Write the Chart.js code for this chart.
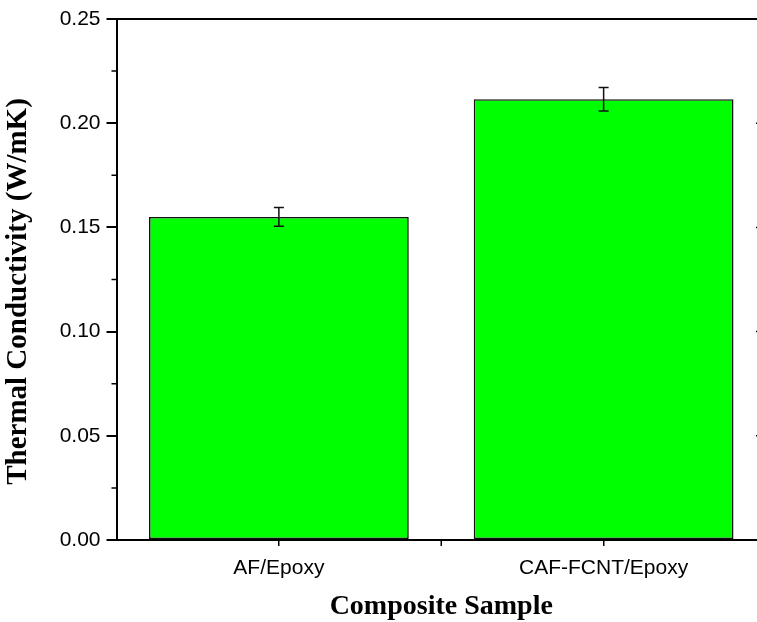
<!DOCTYPE html>
<html>
<head>
<meta charset="utf-8">
<script src="https://cdn.jsdelivr.net/npm/chart.js@4.4.1/dist/chart.umd.min.js"></script>
<style>
    html, body { margin: 0; padding: 0; background: #fff; }
    #wrap { width: 757px; height: 622px; overflow: hidden; position: relative; }
    #box { width: 780px; height: 622px; }
</style>
</head>
<body>
<div id="wrap"><div id="box"><canvas id="conductivity"></canvas></div></div>
<script>
// Thermal conductivity of the two composites
const categories = ['AF/Epoxy', 'CAF-FCNT/Epoxy'];
const conductivity = [0.155, 0.2115];
const conductivityErr = [0.0045, 0.0056];
const yMajorTicks = [0, 0.05, 0.10, 0.15, 0.20, 0.25];
const yMinorTicks = [0.025, 0.075, 0.125, 0.175, 0.225];
const yTitle = 'Thermal Conductivity (W/mK)';

const AXIS = '#000';

// error bars on top of each bar
const errorBars = {
    id: 'errorBars',
    afterDatasetsDraw(chart) {
        const ctx = chart.ctx;
        const y = chart.scales.y;
        const meta = chart.getDatasetMeta(0);
        ctx.save();
        ctx.strokeStyle = '#111';
        ctx.lineWidth = 1.5;
        meta.data.forEach((bar, i) => {
            const hi = y.getPixelForValue(conductivity[i] + conductivityErr[i]);
            const lo = y.getPixelForValue(conductivity[i] - conductivityErr[i]);
            const cap = 5;
            ctx.beginPath();
            ctx.moveTo(bar.x, hi); ctx.lineTo(bar.x, lo);
            ctx.moveTo(bar.x - cap, hi); ctx.lineTo(bar.x + cap, hi);
            ctx.moveTo(bar.x - cap, lo); ctx.lineTo(bar.x + cap, lo);
            ctx.stroke();
        });
        ctx.restore();
    }
};

// frame: top/right lines, minor ticks, category boundary ticks, y title
const frame = {
    id: 'frame',
    afterDraw(chart) {
        const ctx = chart.ctx;
        const a = chart.chartArea;
        const x = chart.scales.x;
        const y = chart.scales.y;
        ctx.save();
        ctx.strokeStyle = AXIS;
        ctx.lineWidth = 2;
        ctx.beginPath();
        ctx.moveTo(a.left, a.top); ctx.lineTo(a.right, a.top);
        ctx.moveTo(a.right, a.top); ctx.lineTo(a.right, a.bottom);
        ctx.stroke();

        ctx.lineWidth = 1.5;
        ctx.beginPath();
        yMinorTicks.forEach(v => {
            const py = y.getPixelForValue(v);
            ctx.moveTo(a.left - 5, py); ctx.lineTo(a.left, py);
        });
        yMajorTicks.forEach(v => {
            const py = y.getPixelForValue(v);
            ctx.moveTo(a.right - 10, py); ctx.lineTo(a.right, py);
        });
        for (let i = 1; i < categories.length; i++) {
            const px = (x.getPixelForValue(i - 1) + x.getPixelForValue(i)) / 2;
            ctx.moveTo(px, a.bottom); ctx.lineTo(px, a.bottom + 6);
        }
        ctx.stroke();

        // rotated y title, sitting a little below the axis middle
        ctx.translate(19, (a.top + a.bottom) / 2 + 12);
        ctx.rotate(-Math.PI / 2);
        ctx.fillStyle = '#000';
        ctx.font = 'bold 29px "Liberation Serif", "Times New Roman", serif';
        ctx.textAlign = 'center';
        ctx.textBaseline = 'middle';
        ctx.fillText(yTitle, 0, 0);
        ctx.restore();
    }
};

new Chart(document.getElementById('conductivity'), {
    type: 'bar',
    data: {
        labels: categories,
        datasets: [{
            data: conductivity,
            backgroundColor: '#00ff00',
            borderColor: '#111',
            borderWidth: 1.6,
            borderSkipped: false,
            barPercentage: 0.8,
            categoryPercentage: 1.0
        }]
    },
    options: {
        responsive: true,
        maintainAspectRatio: false,
        animation: false,
        events: [],
        layout: { padding: { top: 19, right: 14, left: 0, bottom: 0 } },
        plugins: { legend: { display: false }, tooltip: { enabled: false } },
        scales: {
            x: {
                offset: true,
                grid: { offset: false, drawOnChartArea: false, tickLength: 6, color: AXIS, lineWidth: 1.5 },
                border: { display: true, color: AXIS, width: 2 },
                ticks: { color: '#000', padding: 10, font: { family: 'Liberation Sans, Arial', size: 21 } },
                title: {
                    display: true,
                    text: 'Composite Sample',
                    color: '#000',
                    padding: { top: 0, bottom: 0 },
                    font: { family: 'Liberation Serif, Times New Roman', size: 28, weight: 'bold', lineHeight: 1.1 }
                },
                afterFit(scale) { scale.height = 82; }
            },
            y: {
                min: 0,
                max: 0.25,
                ticks: {
                    stepSize: 0.05,
                    color: '#000',
                    padding: 6,
                    font: { family: 'Liberation Sans, Arial', size: 21 },
                    callback: v => v.toFixed(2)
                },
                grid: { drawOnChartArea: false, tickLength: 10, color: AXIS, lineWidth: 2 },
                border: { display: true, color: AXIS, width: 2 },
                title: { display: false },
                afterFit(scale) { scale.width = 116.5; }
            }
        }
    },
    plugins: [errorBars, frame]
});
</script>
</body>
</html>
